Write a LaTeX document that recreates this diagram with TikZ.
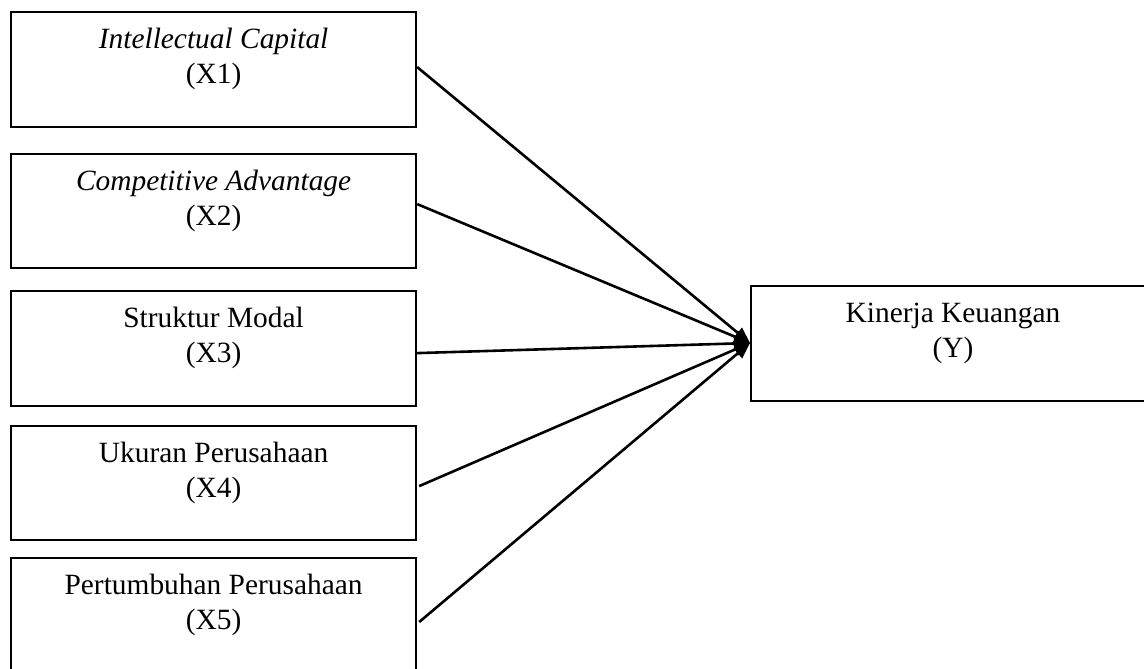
\documentclass[tikz,border=0pt]{standalone}
\usepackage{fontspec}
\setmainfont{Liberation Serif}
\usetikzlibrary{arrows.meta,calc}
\begin{document}
\begin{tikzpicture}[x=1pt,y=-1pt,
  box/.style={draw=black, line width=2.2pt, rectangle, inner sep=0pt, anchor=north west},
  txt/.style={anchor=north, align=center, font=\fontsize{29.4}{35}\selectfont, inner sep=0pt},
  arr/.style={line width=2.6pt, -{Triangle[length=16pt,width=13pt]}}]
\useasboundingbox (0,0) rectangle (1144,669);
\clip (0,0) rectangle (1144,669);
\node[box, minimum width=405pt, minimum height=115pt] (x1) at (10,11) {};
\node[box, minimum width=405pt, minimum height=114pt] (x2) at (10,153) {};
\node[box, minimum width=405pt, minimum height=115pt] (x3) at (10,290) {};
\node[box, minimum width=405pt, minimum height=114pt] (x4) at (10,425) {};
\node[box, minimum width=405pt, minimum height=130pt] (x5) at (10,557) {};
\node[box, minimum width=420pt, minimum height=115pt] (y) at (750,285) {};
\node[txt] (t1) at ($(x1.north)+(0,17)$) {\itshape Intellectual Capital\\(X1)};
\node[txt] (t2) at ($(x2.north)+(0,17)$) {\itshape Competitive Advantage\\\upshape(X2)};
\node[txt] (t3) at ($(x3.north)+(0,17)$) {Struktur Modal\\(X3)};
\node[txt] (t4) at ($(x4.north)+(0,17)$) {Ukuran Perusahaan\\(X4)};
\node[txt] (t5) at ($(x5.north)+(0,17)$) {Pertumbuhan Perusahaan\\(X5)};
\node[txt] (ty) at ($(y.north west)+(203,18)$) {Kinerja Keuangan\\(Y)};
\coordinate (tip) at (750,343);
\draw[arr] ([yshift=2.5pt]x1.east) -- (tip);
\draw[arr] ([yshift=7pt]x2.east) -- (tip);
\draw[arr] ([yshift=-4.5pt]x3.east) -- (tip);
\draw[arr] ([xshift=2pt,yshift=-3pt]x4.east) -- (tip);
\draw[arr] ([xshift=2pt]x5.east |- 0,622) -- (tip);
\end{tikzpicture}
\end{document}
